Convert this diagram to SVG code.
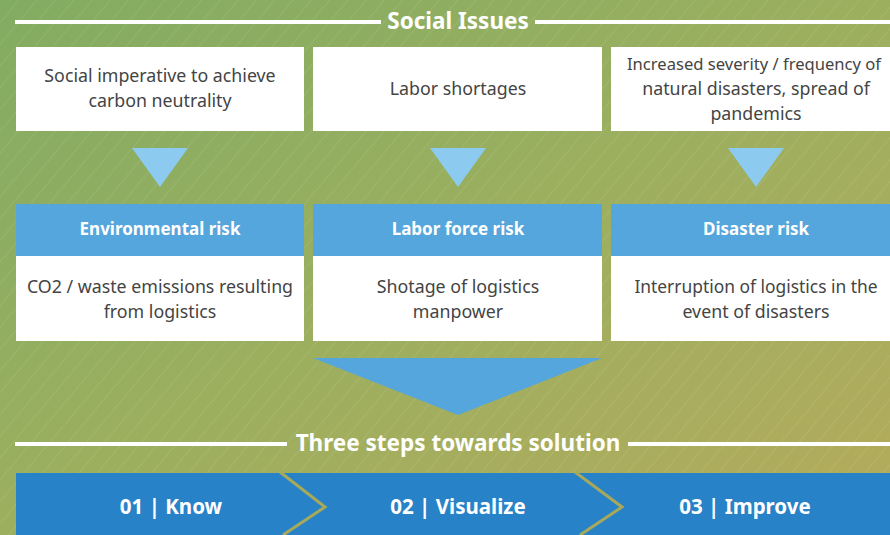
<svg xmlns="http://www.w3.org/2000/svg" width="890" height="535" viewBox="0 0 890 535">
<defs>
<linearGradient id="bg" x1="0" y1="0" x2="1" y2="1">
<stop offset="0" stop-color="#82ac62"/>
<stop offset="0.5" stop-color="#9caf5f"/>
<stop offset="1" stop-color="#b4ab5b"/>
</linearGradient>
<pattern id="hatch" width="14" height="14" patternUnits="userSpaceOnUse" patternTransform="rotate(40)">
<line x1="0" y1="0" x2="0" y2="14" stroke="#ffffff" stroke-opacity="0.18" stroke-width="1"/>
</pattern>
<style>
.box{fill:#ffffff}
.hdr{fill:#55a6dc}
.tri{fill:#8ccbef}
.t{font-family:"Noto Sans",sans-serif;font-size:17.8px;fill:#444444;text-anchor:middle}
.h{font-family:"Noto Sans",sans-serif;font-size:17px;font-weight:bold;fill:#ffffff;text-anchor:middle}
.title{font-family:"Noto Sans",sans-serif;font-size:22.5px;font-weight:bold;fill:#ffffff;text-anchor:middle}
.step{font-family:"Noto Sans",sans-serif;font-size:20.5px;font-weight:bold;fill:#ffffff;text-anchor:middle}
.rule{stroke:#ffffff;stroke-width:4}
.chev{fill:none;stroke:#a6a95c;stroke-width:3}
</style>
</defs>
<rect width="890" height="535" fill="url(#bg)"/>
<rect width="890" height="535" fill="url(#hatch)"/>

<g id="social-issues-title">
<line class="rule" x1="15" y1="22" x2="381" y2="22"/>
<line class="rule" x1="535" y1="22" x2="890" y2="22"/>
<text class="title" x="458" y="29">Social Issues</text>
</g>

<g id="issue1">
<rect class="box" x="16" y="47" width="288" height="84"/>
<text class="t" x="160" y="82">Social imperative to achieve</text>
<text class="t" x="160" y="107">carbon neutrality</text>
</g>
<g id="issue2">
<rect class="box" x="313" y="47" width="289" height="84"/>
<text class="t" x="458" y="95">Labor shortages</text>
</g>
<g id="issue3">
<rect class="box" x="611" y="47" width="279" height="84"/>
<text class="t" x="754" y="70" style="font-size:16.6px">Increased severity / frequency of</text>
<text class="t" x="756" y="95">natural disasters, spread of</text>
<text class="t" x="756" y="120">pandemics</text>
</g>

<g id="connectors">
<polygon class="tri" points="132,148 188,148 160,187"/>
<polygon class="tri" points="430,148 486,148 458,187"/>
<polygon class="tri" points="728,148 784,148 756,187"/>
<polygon class="hdr" points="313,358 602,358 458,415"/>
</g>

<g id="risk1">
<rect class="hdr" x="16" y="204" width="288" height="52"/>
<rect class="box" x="16" y="256" width="288" height="85"/>
<text class="h" x="160" y="235">Environmental risk</text>
<text class="t" x="160" y="293">CO2 / waste emissions resulting</text>
<text class="t" x="160" y="318">from logistics</text>
</g>
<g id="risk2">
<rect class="hdr" x="313" y="204" width="289" height="52"/>
<rect class="box" x="313" y="256" width="289" height="85"/>
<text class="h" x="458" y="235">Labor force risk</text>
<text class="t" x="458" y="293">Shotage of logistics</text>
<text class="t" x="458" y="318">manpower</text>
</g>
<g id="risk3">
<rect class="hdr" x="611" y="204" width="279" height="52"/>
<rect class="box" x="611" y="256" width="279" height="85"/>
<text class="h" x="756" y="235">Disaster risk</text>
<text class="t" x="756" y="293" style="font-size:17.4px">Interruption of logistics in the</text>
<text class="t" x="756" y="318">event of disasters</text>
</g>

<g id="steps-title">
<line class="rule" x1="15" y1="444" x2="287" y2="444"/>
<line class="rule" x1="628" y1="444" x2="890" y2="444"/>
<text class="title" x="458" y="451">Three steps towards solution</text>
</g>

<g id="steps">
<rect x="16" y="473" width="874" height="62" fill="#2882c8"/>
<polyline class="chev" points="280,472 325,507 283,535"/>
<polyline class="chev" points="575,472 622,507 580,535"/>
<text class="step" x="171" y="514">01 | Know</text>
<text class="step" x="458" y="514">02 | Visualize</text>
<text class="step" x="745" y="514">03 | Improve</text>
</g>
</svg>
